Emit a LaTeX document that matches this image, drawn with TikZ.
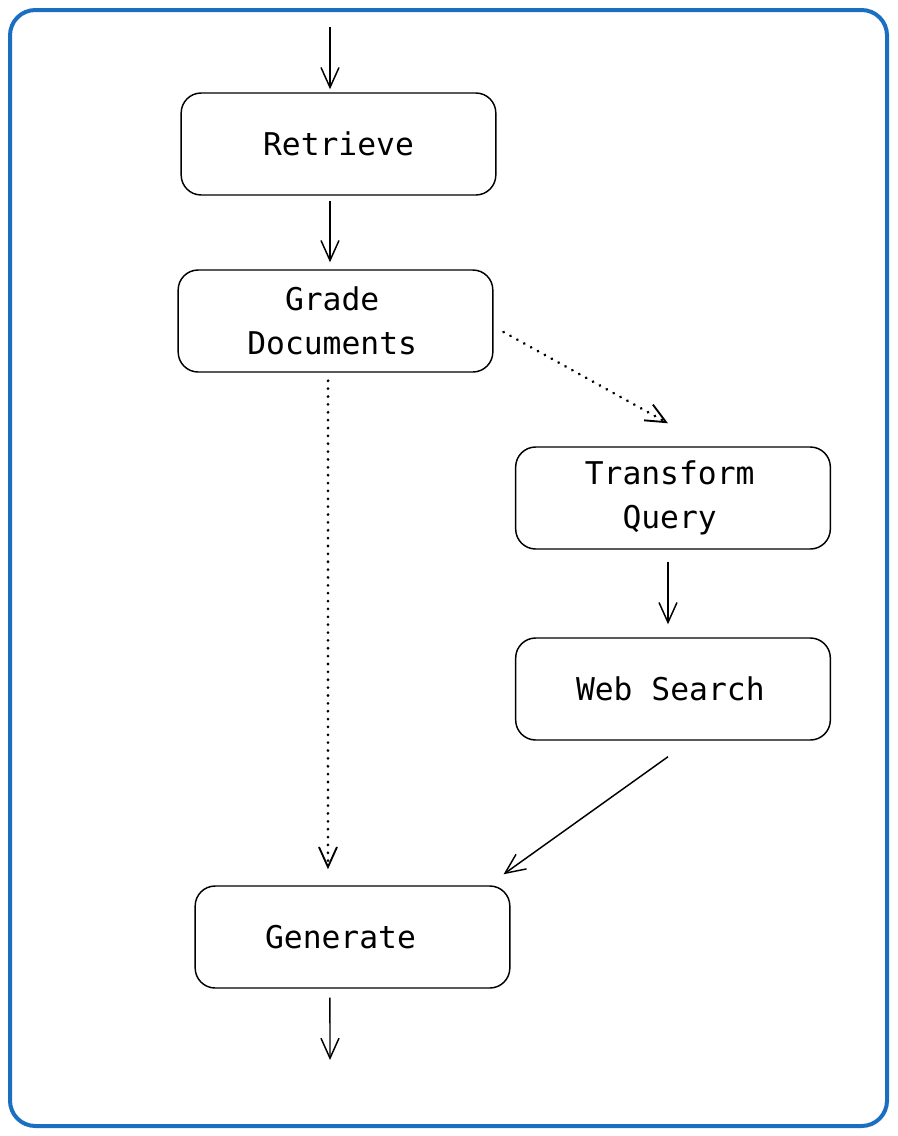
\documentclass[tikz,border=0pt]{standalone}
\usepackage{fontspec}
\setmonofont{DejaVu Sans Mono}
\usetikzlibrary{arrows.meta}
\definecolor{frameblue}{HTML}{1A6FC0}
\begin{document}
\begin{tikzpicture}[
    x=0.75pt, y=-0.75pt,
    box/.style={rectangle, rounded corners=15pt, draw, line width=1.1pt,
        minimum width=236pt, minimum height=76.5pt, align=center,
        font=\ttfamily\fontsize{23.5}{33}\selectfont},
    arr/.style={draw, line width=1.1pt, -{Straight Barb[length=15pt, width=13.5pt, line width=1.1pt]}},
    dotarr/.style={arr, line cap=round, dash pattern=on 0.1pt off 5.8pt, line width=2.2pt,
        -{Straight Barb[length=15pt, width=13.5pt, line width=1.4pt]}}
    ]

\useasboundingbox (0,0) rectangle (898,1136);
\draw[frameblue, line width=3pt, rounded corners=19pt] (10,10) rectangle (887,1126);

\node[box] (ret) at (338.5,144) {Retrieve};
\node[box] (grd) at (335.5,321) {Grade\hspace*{5pt}\\Documents\hspace*{5pt}};
\node[box] (trf) at (673,498) {Transform\hspace*{5pt}\\Query\hspace*{5pt}};
\node[box] (web) at (673,689) {Web Search\hspace*{4pt}};
\node[box] (gen) at (352.5,937) {Generate\hspace*{18pt}};

\coordinate (in) at (330,27);
\coordinate (out) at (330,1060);

\draw[arr, shorten >=2.25pt] (in) -- (in |- ret.north);
\draw[arr, shorten <=3.75pt, shorten >=5.25pt] (ret.south -| in) -- (grd.north -| in);
\draw[dotarr] ([xshift=7.5pt, yshift=-8.25pt]grd.east) -- ([xshift=-3.75pt, yshift=17.25pt]trf.north);
\draw[dotarr] ([xshift=-5.6pt, yshift=-6pt]grd.south) -- ([xshift=-18.4pt, yshift=12pt]gen.north);
\draw[arr] ([xshift=-3.75pt, yshift=-9pt]trf.south) -- ([xshift=-3.75pt, yshift=9.75pt]web.north);
\draw[arr] ([xshift=-3.75pt, yshift=-12pt]web.south) -- ([xshift=-5.25pt, yshift=8.25pt]gen.north east);
\draw[arr] ([xshift=-16.9pt, yshift=-6.75pt]gen.south) -- (out);
\end{tikzpicture}
\end{document}
